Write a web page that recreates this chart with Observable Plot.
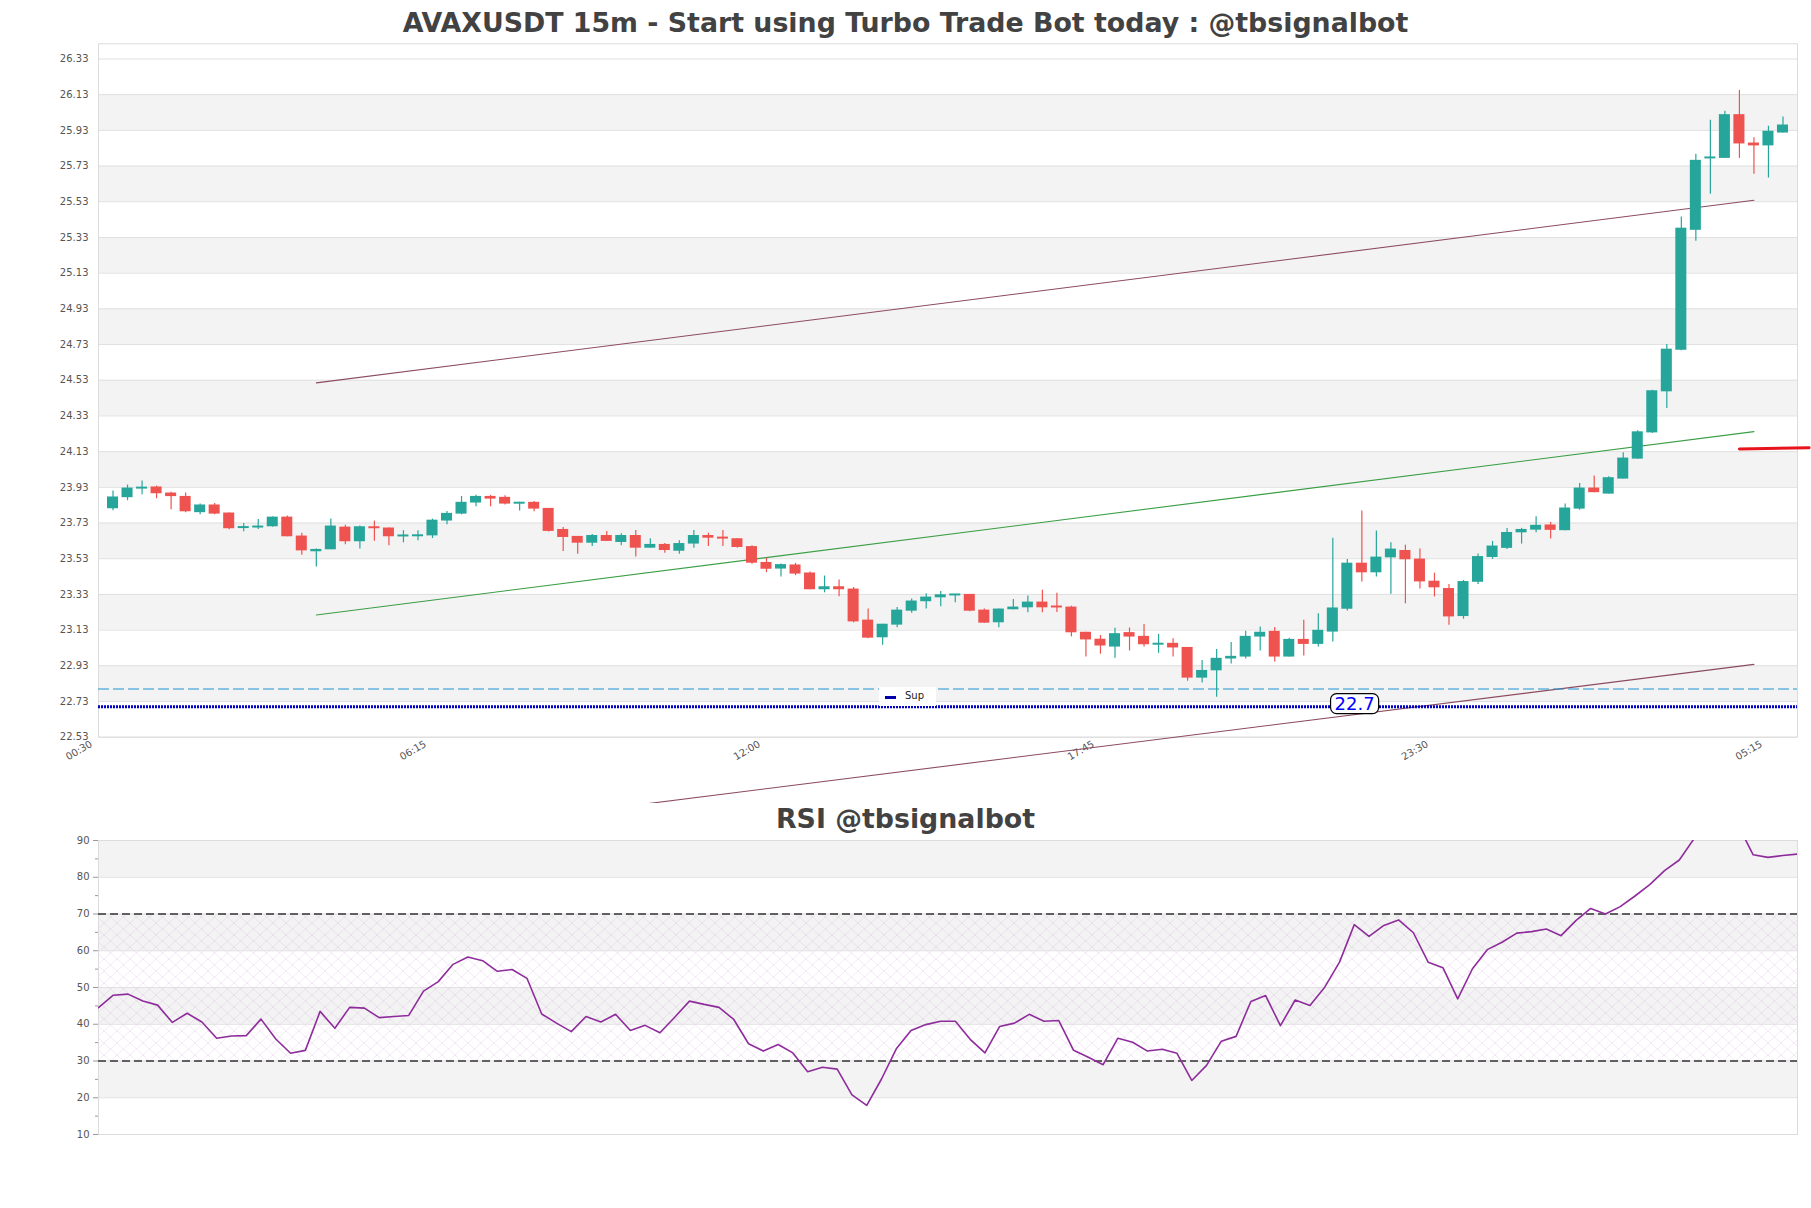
<!DOCTYPE html>
<html><head><meta charset="utf-8">
<script src="https://cdn.jsdelivr.net/npm/d3@7"></script>
<script src="https://cdn.jsdelivr.net/npm/@observablehq/plot@0.6"></script>
<style>
body{margin:0;background:#fff;font-family:"DejaVu Sans",sans-serif;}
#wrap{position:relative;width:1811px;height:1208px;overflow:hidden;background:#fff;}
#main,#rsi{position:absolute;left:0;}
#main{top:0}
#rsi{top:803px}
.title{position:absolute;left:0;width:1811px;text-align:center;font-weight:bold;font-size:26.8px;line-height:26.8px;color:#424242;white-space:nowrap;}
#legend{position:absolute;left:879px;top:687px;width:57px;height:19px;background:#fff;font-size:10px;color:#222;}
#legend .sw{position:absolute;left:6px;top:9px;width:11px;height:2.5px;background:#0000aa;}
#legend .tx{position:absolute;left:26px;top:3px;}
</style></head><body>
<div id="wrap">
  <div id="main"></div>
  <div id="rsi"></div>
  <div class="title" style="top:10px">AVAXUSDT 15m - Start using Turbo Trade Bot today : @tbsignalbot</div>
  <div class="title" style="top:806px">RSI @tbsignalbot</div>
  <div id="legend"><span class="sw"></span><span class="tx">Sup</span></div>
</div>
<script>
// ---------------- data ----------------
const opens = [23.810,23.872,23.923,23.932,23.898,23.879,23.788,23.831,23.786,23.700,
23.705,23.709,23.763,23.657,23.569,23.580,23.707,23.625,23.709,23.702,
23.653,23.653,23.658,23.741,23.780,23.842,23.879,23.874,23.836,23.846,
23.812,23.694,23.655,23.617,23.660,23.621,23.660,23.589,23.610,23.572,
23.612,23.660,23.649,23.642,23.598,23.509,23.472,23.495,23.450,23.356,
23.373,23.360,23.186,23.087,23.158,23.236,23.289,23.311,23.324,23.330,
23.242,23.171,23.244,23.255,23.287,23.264,23.259,23.118,23.079,23.035,
23.116,23.095,23.046,23.056,23.033,22.861,22.902,22.968,22.979,23.091,
23.123,22.979,23.078,23.050,23.119,23.247,23.505,23.451,23.535,23.576,
23.528,23.404,23.363,23.206,23.398,23.537,23.588,23.675,23.690,23.719,
23.687,23.808,23.926,23.892,23.976,24.088,24.235,24.465,24.698,25.370,
25.770,25.773,26.018,25.859,25.843,25.915];
const highs = [23.909,23.943,23.966,23.937,23.902,23.898,23.836,23.840,23.786,23.728,
23.750,23.765,23.769,23.672,23.585,23.752,23.718,23.713,23.741,23.702,
23.687,23.687,23.752,23.795,23.879,23.885,23.885,23.883,23.846,23.851,
23.812,23.705,23.655,23.666,23.683,23.670,23.688,23.642,23.615,23.630,
23.688,23.673,23.688,23.642,23.602,23.533,23.500,23.504,23.455,23.433,
23.411,23.369,23.248,23.163,23.257,23.304,23.334,23.347,23.330,23.330,
23.248,23.248,23.302,23.321,23.353,23.336,23.264,23.118,23.100,23.140,
23.142,23.162,23.106,23.082,23.033,22.960,23.022,23.061,23.123,23.147,
23.144,23.084,23.185,23.222,23.644,23.526,23.797,23.685,23.620,23.606,
23.584,23.449,23.385,23.408,23.557,23.627,23.700,23.700,23.765,23.733,
23.836,23.952,23.993,23.989,24.124,24.247,24.474,24.730,25.445,25.796,
25.986,26.037,26.154,25.889,25.953,26.005];
const lows = [23.799,23.855,23.889,23.866,23.805,23.788,23.776,23.776,23.692,23.681,
23.694,23.707,23.653,23.550,23.484,23.580,23.608,23.585,23.628,23.602,
23.619,23.630,23.643,23.720,23.776,23.821,23.821,23.831,23.797,23.793,
23.679,23.570,23.555,23.598,23.627,23.602,23.539,23.589,23.561,23.555,
23.589,23.598,23.598,23.589,23.499,23.452,23.428,23.435,23.356,23.339,
23.317,23.171,23.081,23.045,23.143,23.225,23.248,23.261,23.283,23.233,
23.167,23.143,23.244,23.227,23.227,23.229,23.092,22.980,22.995,22.973,
23.013,23.035,23.000,22.979,22.844,22.833,22.754,22.940,22.968,23.013,
22.951,22.979,22.985,23.035,23.063,23.237,23.400,23.428,23.331,23.277,
23.361,23.316,23.157,23.191,23.385,23.526,23.582,23.612,23.676,23.640,
23.687,23.802,23.900,23.892,23.976,24.088,24.232,24.372,24.695,25.309,
25.572,25.773,25.773,25.684,25.663,25.915];
const closes = [23.876,23.926,23.928,23.894,23.878,23.793,23.831,23.780,23.698,23.709,
23.710,23.763,23.653,23.574,23.582,23.713,23.625,23.709,23.698,23.653,
23.662,23.664,23.746,23.784,23.846,23.879,23.864,23.836,23.846,23.808,
23.683,23.649,23.617,23.660,23.627,23.660,23.589,23.610,23.576,23.615,
23.660,23.645,23.642,23.593,23.505,23.471,23.497,23.444,23.356,23.373,
23.356,23.176,23.085,23.163,23.242,23.293,23.315,23.328,23.330,23.236,
23.169,23.248,23.259,23.287,23.255,23.255,23.115,23.075,23.041,23.110,
23.091,23.048,23.056,23.030,22.861,22.904,22.972,22.983,23.095,23.118,
22.979,23.078,23.050,23.129,23.254,23.505,23.451,23.539,23.584,23.524,
23.400,23.367,23.204,23.402,23.542,23.601,23.677,23.694,23.717,23.689,
23.814,23.926,23.900,23.984,24.094,24.241,24.471,24.704,25.382,25.762,
25.781,26.018,25.854,25.843,25.925,25.960];

const rsiValues = [44.5,47.9,48.2,46.3,45.2,40.5,43.0,40.6,36.2,36.8,
36.9,41.4,36.0,32.1,32.9,43.5,38.9,44.6,44.4,41.8,
42.1,42.4,49.0,51.6,56.3,58.3,57.3,54.4,54.9,52.5,
42.8,40.3,38.0,42.1,40.6,42.7,38.3,39.7,37.7,41.9,
46.3,45.4,44.6,41.3,34.7,32.7,34.5,32.2,27.1,28.3,
27.8,20.8,17.9,25.1,33.3,38.3,39.9,40.8,40.8,35.9,
32.2,39.4,40.3,42.7,40.8,41.0,32.9,31.0,29.0,36.2,
35.1,32.7,33.2,32.1,24.7,28.8,35.4,36.7,46.2,47.8,
39.6,46.6,45.1,50.1,56.9,67.1,63.9,66.9,68.4,64.9,
56.9,55.4,46.9,55.1,60.3,62.3,64.8,65.2,65.9,64.1,
68.2,71.5,70.0,72.0,74.9,78.0,81.8,84.7,90.5,93.5,
93.2,94.0,86.1,85.4,85.9,86.3];

const priceTicks = [22.53,22.73,22.93,23.13,23.33,23.53,23.73,23.93,24.13,24.33,
24.53,24.73,24.93,25.13,25.33,25.53,25.73,25.93,26.13,26.33];
const xTickIndex = [-1,22,45,68,91,114];
const xTickLabels = ["00:30","06:15","12:00","17:45","23:30","05:15"];
const rsiTicks = [10,20,30,40,50,60,70,80,90];
const rsiMinorTicks = [15,25,35,45,55,65,75,85];

const channelIdx = [14,113];
const channelUpper = [24.515,25.538];
const channelMid = [23.215,24.242];
const channelLower = [21.924,22.938];

const supLevel = 22.70;
const dashLevel = 22.80;
const redIdx = [112,116.8];
const redLevel = [24.145,24.152];
const supLabelIdx = 85.5;

// ---------------- styling ----------------
const GREEN = "#26a69a", RED = "#ef5350", BAND = "#f3f3f3", GRID = "#e0e0e0";
const BROWN = "#8c4b5e", LGREEN = "#3a9e45";

const candles = opens.map((o,i)=>{
  const c = closes[i], up = c >= o;
  let lo = Math.min(o,c), hi = Math.max(o,c);
  if (hi - lo < 0.011) { const m = (hi+lo)/2; lo = m-0.0055; hi = m+0.0055; }
  return {i, o, h: highs[i], l: lows[i], c, lo, hi, col: up ? GREEN : RED};
});
const bands = priceTicks.slice(0,-1).map((t,k)=>({y1:t, y2:priceTicks[k+1], k})).filter(d=>d.k%2===1);
const line2 = (vals)=>channelIdx.map((x,k)=>({x, y: vals[k]}));

const main = Plot.plot({
  width: 1811, height: 803,
  marginLeft: 98, marginRight: 14, marginTop: 43.3, marginBottom: 66.3,
  x: {domain: [-1,116], axis: null},
  y: {domain: [22.53, 26.415], axis: null},
  color: {type: "identity"},
  style: {fontFamily: "DejaVu Sans", fontSize: "10px", color: "#555", background: "#fff"},
  marks: [
    Plot.rect(bands, {y1: "y1", y2: "y2", fill: BAND}),
    Plot.ruleY(priceTicks, {stroke: GRID, strokeWidth: 1}),
    Plot.frame({stroke: "#dcdcdc"}),
    Plot.axisY(priceTicks, {tickSize: 0, tickPadding: 10, tickFormat: d=>d.toFixed(2), fill: "#555"}),
    Plot.axisX(xTickIndex, {tickSize: 0, tickPadding: 6, tickRotate: -30, dx: -7, tickFormat: d=>xTickLabels[xTickIndex.indexOf(d)], fill: "#555"}),
    Plot.line(line2(channelUpper), {x: "x", y: "y", stroke: BROWN, strokeWidth: 1.1}),
    Plot.line(line2(channelMid), {x: "x", y: "y", stroke: LGREEN, strokeWidth: 1.1}),
    Plot.line(line2(channelLower), {x: "x", y: "y", stroke: BROWN, strokeWidth: 1.1}),
    Plot.ruleY([dashLevel], {stroke: "#1f93d6", strokeWidth: 1.2, strokeDasharray: "11,4"}),
    Plot.ruleY([supLevel], {stroke: "#0000c0", strokeWidth: 3, strokeDasharray: "2,1"}),
    Plot.ruleX(candles, {x: "i", y1: "l", y2: "h", stroke: "col", strokeWidth: 1.2}),
    Plot.rect(candles, {x1: d=>d.i-0.38, x2: d=>d.i+0.38, y1: "lo", y2: "hi", fill: "col"}),
    Plot.line(redIdx.map((x,k)=>({x, y: redLevel[k]})), {x: "x", y: "y", stroke: "#e8141c", strokeWidth: 3}),
    Plot.text([supLevel], {x: ()=>supLabelIdx, y: d=>d, text: d=>String(d), fill: "#0000ff", fontSize: 18, fontFamily: "DejaVu Sans", dy: -3})
  ]
});
d3.select(main).style("overflow","hidden");
document.getElementById("main").appendChild(main);
// rounded box behind the 22.7 label
d3.select(main).selectAll("text").filter(function(){return this.textContent === String(supLevel);}).each(function(){
  const b = this.getBBox();
  const node = this;
  const r = d3.select(this.parentNode).insert("rect", () => node)
    .attr("x", b.x-4).attr("y", b.y+1).attr("width", b.width+8).attr("height", b.height-1)
    .attr("rx", 6).attr("fill", "#fff").attr("stroke", "#000").attr("stroke-width", 1.2);
  const t = this.getAttribute("transform");
  if (t) r.attr("transform", t);
});

// ---------------- RSI ----------------
const rsiBands = [[20,30],[40,50],[60,70],[80,90]].map(([a,b])=>({y1:a,y2:b}));
const rsi = Plot.plot({
  width: 1811, height: 405,
  marginLeft: 98, marginRight: 14, marginTop: 37, marginBottom: 74,
  x: {domain: [0, rsiValues.length-1], axis: null},
  y: {domain: [10, 90], axis: null},
  style: {fontFamily: "DejaVu Sans", fontSize: "10px", color: "#555", background: "#fff"},
  marks: [
    Plot.rect(rsiBands, {y1: "y1", y2: "y2", fill: BAND}),
    Plot.rect([{y1: 30, y2: 70}], {y1: "y1", y2: "y2", fill: "url(#rsiHatch)"}),
    Plot.ruleY(rsiTicks, {stroke: GRID}),
    Plot.frame({stroke: "#dcdcdc"}),
    Plot.axisY(rsiTicks, {tickSize: 5, tickPadding: 4, stroke: "#999", fill: "#555"}),
    Plot.axisY(rsiMinorTicks, {tickSize: 3, tickFormat: ()=>"", stroke: "#999"}),
    Plot.ruleY([30,70], {stroke: "#333", strokeWidth: 1.3, strokeDasharray: "8,4"}),
    Plot.line(rsiValues, {x: (d,i)=>i, y: d=>d, stroke: "#8e2c9c", strokeWidth: 1.6, clip: true})
  ]
});
const defs = d3.select(rsi).insert("defs", ":first-child");
const pat = defs.append("pattern").attr("id","rsiHatch").attr("patternUnits","userSpaceOnUse").attr("width",13).attr("height",12);
pat.append("path").attr("d","M0,0L13,12M13,0L0,12").attr("stroke","rgba(190,140,210,0.28)").attr("stroke-width",0.7).attr("fill","none");
document.getElementById("rsi").appendChild(rsi);
</script>
</body></html>
